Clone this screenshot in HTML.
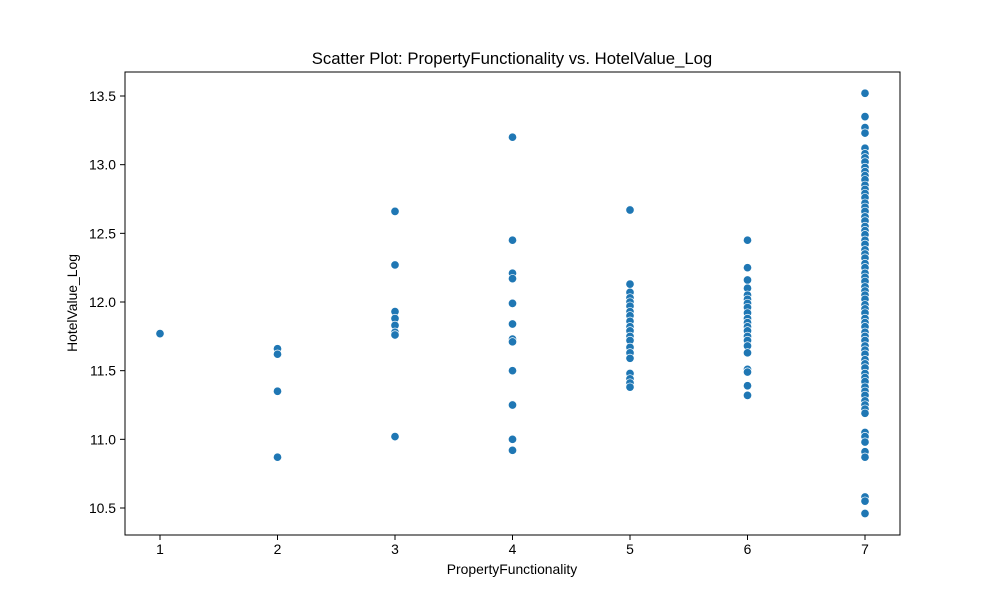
<!DOCTYPE html>
<html><head><meta charset="utf-8"><style>
html,body{margin:0;padding:0;background:#fff;}
svg text{font-family:"Liberation Sans","DejaVu Sans",sans-serif;fill:#000;}
</style></head><body>
<svg id="chart" width="1000" height="600">
<rect x="0" y="0" width="1000" height="600" fill="#fff"/>
<text x="512" y="64" font-size="16.7" text-anchor="middle">Scatter Plot: PropertyFunctionality vs. HotelValue_Log</text>
<g id="points"></g>
<rect x="125" y="72" width="775" height="463" fill="none" stroke="#000" stroke-width="1"/>
<g id="xticks"></g>
<g id="yticks"></g>
<text x="512" y="574" font-size="13.9" text-anchor="middle">PropertyFunctionality</text>
<text transform="translate(77,303) rotate(-90)" font-size="13.9" text-anchor="middle">HotelValue_Log</text>
</svg>
<script>
const xTicks=[1,2,3,4,5,6,7];
const yTicks=[10.5,11.0,11.5,12.0,12.5,13.0,13.5];
const col1=[11.77];
const col2=[11.66,11.62,11.35,10.87];
const col3=[12.66,12.27,11.93,11.88,11.83,11.78,11.76,11.02];
const col4=[13.2,12.45,12.21,12.17,11.99,11.84,11.73,11.71,11.5,11.25,11.0,10.92];
const col5=[12.67,12.13,12.07,12.03,12.0,11.97,11.93,11.9,11.86,11.82,11.79,11.75,11.72,11.67,11.63,11.59,11.48,11.44,11.41,11.38];
const col6=[12.45,12.25,12.16,12.1,12.05,12.02,11.99,11.96,11.92,11.88,11.85,11.82,11.79,11.75,11.72,11.68,11.63,11.51,11.49,11.39,11.32];
const col7=[13.52,13.35,13.27,13.23,13.12,13.08,13.05,13.02,12.98,12.95,12.92,12.89,12.85,12.82,12.79,12.76,12.72,12.69,12.66,12.62,12.59,12.55,12.52,12.49,12.45,12.42,12.38,12.35,12.32,12.28,12.25,12.21,12.18,12.15,12.11,12.08,12.05,12.02,11.98,11.95,11.92,11.88,11.85,11.82,11.78,11.75,11.72,11.68,11.65,11.62,11.58,11.55,11.52,11.48,11.45,11.42,11.38,11.35,11.32,11.28,11.25,11.22,11.19,11.05,11.02,10.98,10.91,10.87,10.58,10.55,10.46];
const cols=[col1,col2,col3,col4,col5,col6,col7];
const NS="http://www.w3.org/2000/svg";
function xs(v){return 160+(v-1)*117.5;}
function ys(v){return 508-(v-10.5)*137.33;}
const pg=document.getElementById('points');
cols.forEach((c,i)=>{c.forEach(v=>{
 const e=document.createElementNS(NS,'circle');
 e.setAttribute('cx',xs(xTicks[i]));e.setAttribute('cy',ys(v));e.setAttribute('r',4.2);
 e.setAttribute('fill','#1f77b4');e.setAttribute('stroke','#fff');e.setAttribute('stroke-width',0.7);
 
 
 pg.appendChild(e);});});
const xg=document.getElementById('xticks');
xTicks.forEach(t=>{
 const l=document.createElementNS(NS,'line');
 l.setAttribute('x1',xs(t));l.setAttribute('x2',xs(t));l.setAttribute('y1',535);l.setAttribute('y2',540);l.setAttribute('stroke','#000');
 
 
 xg.appendChild(l);
 const tx=document.createElementNS(NS,'text');
 tx.setAttribute('x',xs(t));tx.setAttribute('y',554);tx.setAttribute('font-size','13.9');tx.setAttribute('text-anchor','middle');
 tx.textContent=t;
 
 
 xg.appendChild(tx);});
const yg=document.getElementById('yticks');
yTicks.forEach(t=>{
 const l=document.createElementNS(NS,'line');
 l.setAttribute('x1',120);l.setAttribute('x2',125);l.setAttribute('y1',ys(t));l.setAttribute('y2',ys(t));l.setAttribute('stroke','#000');
 
 
 yg.appendChild(l);
 const tx=document.createElementNS(NS,'text');
 tx.setAttribute('x',116);tx.setAttribute('y',ys(t)+5);tx.setAttribute('font-size','13.9');tx.setAttribute('text-anchor','end');
 tx.textContent=t.toFixed(1);
 
 
 yg.appendChild(tx);});
</script>
</body></html>
